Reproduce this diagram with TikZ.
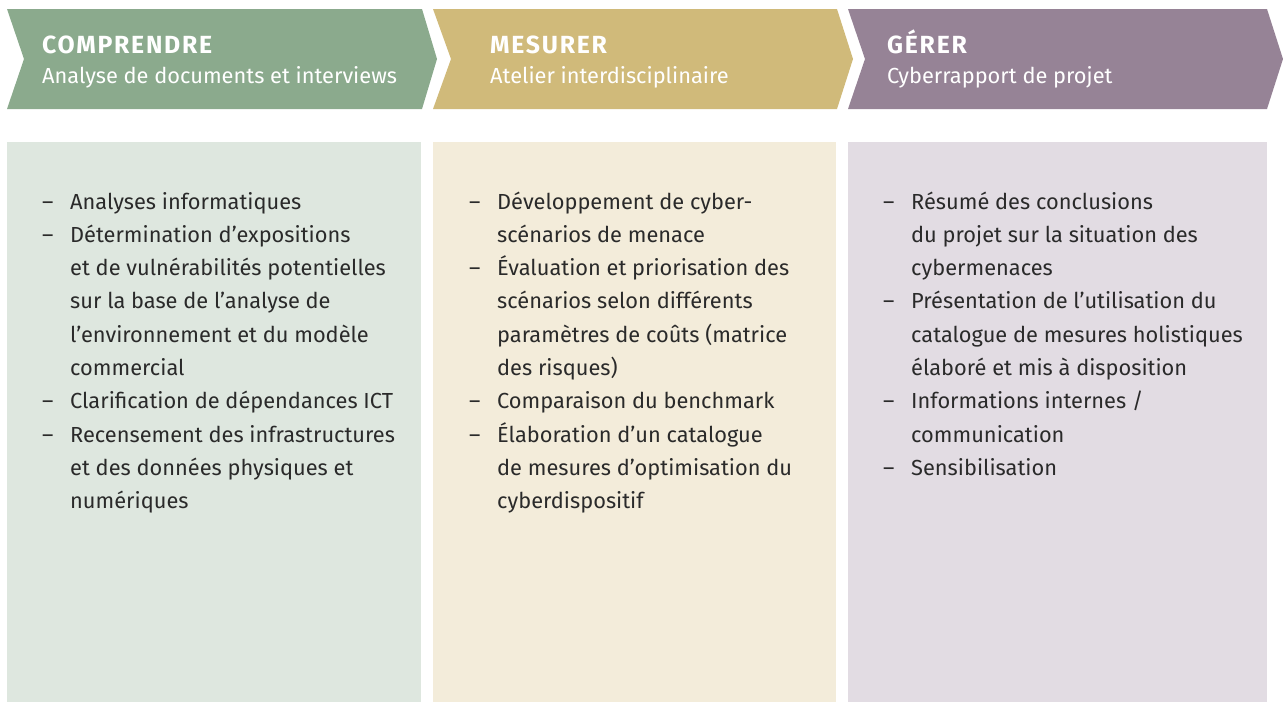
\documentclass[tikz,border=0pt]{standalone}
\usepackage{fontspec}
\setmainfont{Fira Sans}
\usepackage{tikz}
\usetikzlibrary{positioning,calc}

\definecolor{compGreen}{HTML}{8BAA8D}
\definecolor{compLight}{HTML}{DEE7DF}
\definecolor{mesGold}{HTML}{D0BA7A}
\definecolor{mesLight}{HTML}{F3ECDA}
\definecolor{gerPurple}{HTML}{968396}
\definecolor{gerLight}{HTML}{E2DCE3}
\definecolor{listText}{HTML}{2A2A2A}

\tikzset{
  phase/.style={anchor=base west, inner sep=0, text=white,
    font=\fontsize{24.8}{28}\selectfont\bfseries\addfontfeatures{LetterSpace=7}},
  phasesub/.style={anchor=base west, inner sep=0, text=white,
    font=\fontsize{21.8}{26}\selectfont},
  tasks/.style={anchor=base west, inner sep=0, text=listText,
    font=\fontsize{21.8}{33.3}\selectfont}
}
\newcommand{\itm}{\makebox[28pt][l]{–}}

\begin{document}
\begin{tikzpicture}[x=1pt,y=-1pt]
	\useasboundingbox (0,0) rectangle (1283,702);
	
	% Chevrons
	\fill[compGreen] (7,9) -- (422,9) -- (437,59) -- (422,109) -- (7,109) -- (24,59) -- cycle;
	\fill[mesGold] (433,9) -- (837,9) -- (853,59) -- (837,109) -- (433,109) -- (451,59) -- cycle;
	\fill[gerPurple] (848,9) -- (1267,9) -- (1283,59) -- (1267,109) -- (848,109) -- (865,59) -- cycle;
	
	% Boxes below
	\fill[compLight] (7,142) rectangle (421,702);
	\fill[mesLight] (433,142) rectangle (836,702);
	\fill[gerLight] (848,142) rectangle (1267,702);
	
	% Phase titles
	\node[phase] (comp) at (42,53) {COMPRENDRE};
	\node[phasesub] (compSub) at ($(comp.base west) + (0,30)$) {Analyse de documents et interviews};
	
	\node[phase] (mes) at (490,53) {MESURER};
	\node[phasesub] (mesSub) at ($(mes.base west) + (0,30)$) {Atelier interdisciplinaire};
	
	\node[phase] (ger) at (887,53) {GÉRER};
	\node[phasesub] (gerSub) at ($(ger.base west) + (0,30)$) {Cyberrapport de projet};
	
	% Task lists
	\node[tasks] (compList) at (42,209) {\begin{tabular}[t]{@{}l@{}}
		\itm Analyses informatiques\\
		\itm Détermination d’expositions\\
		\hspace*{28pt}et de vulnérabilités potentielles\\
		\hspace*{28pt}sur la base de l’analyse de\\
		\hspace*{28pt}l’environnement et du modèle\\
		\hspace*{28pt}commercial\\
		\itm Clarification de dépendances ICT\\
		\itm Recensement des infrastructures\\
		\hspace*{28pt}et des données physiques et\\
		\hspace*{28pt}numériques
	\end{tabular}};
	
	\node[tasks] (mesList) at (469,209) {\begin{tabular}[t]{@{}l@{}}
		\itm Développement de cyber-\\
		\hspace*{28pt}scénarios de menace\\
		\itm Évaluation et priorisation des\\
		\hspace*{28pt}scénarios selon différents\\
		\hspace*{28pt}paramètres de coûts (matrice\\
		\hspace*{28pt}des risques)\\
		\itm Comparaison du benchmark\\
		\itm Élaboration d’un catalogue\\
		\hspace*{28pt}de mesures d’optimisation du\\
		\hspace*{28pt}cyberdispositif
	\end{tabular}};
	
	\node[tasks] (gerList) at (883,209) {\begin{tabular}[t]{@{}l@{}}
		\itm Résumé des conclusions\\
		\hspace*{28pt}du projet sur la situation des\\
		\hspace*{28pt}cybermenaces\\
		\itm Présentation de l’utilisation du\\
		\hspace*{28pt}catalogue de mesures holistiques\\
		\hspace*{28pt}élaboré et mis à disposition\\
		\itm Informations internes /\\
		\hspace*{28pt}communication\\
		\itm Sensibilisation
	\end{tabular}};
\end{tikzpicture}
\end{document}
